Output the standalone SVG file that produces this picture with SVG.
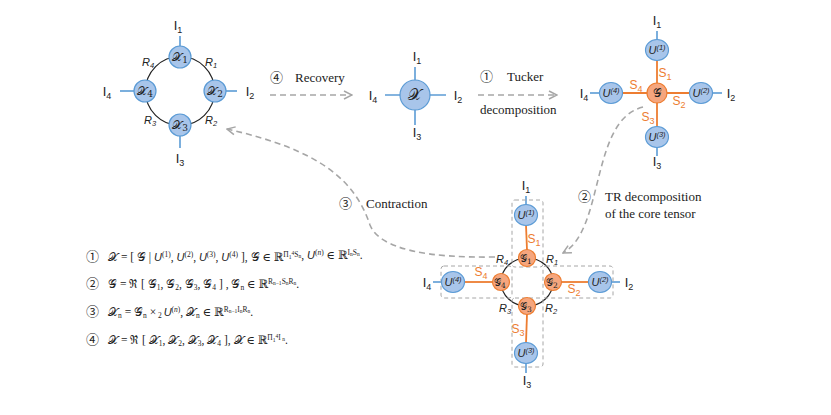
<svg xmlns="http://www.w3.org/2000/svg" width="831" height="415" viewBox="0 0 831 415">
<style>
.blue{fill:#a8c5ea;stroke:#5b9bd5;stroke-width:1.2}
.orng{fill:#f5a67e;stroke:#ed7d31;stroke-width:1.2}
.leg{stroke:#5b9bd5;stroke-width:1.6;fill:none}
.oline{stroke:#ed7d31;stroke-width:1.8;fill:none}
.ring{fill:none;stroke:#222;stroke-width:1.2}
.dash{fill:none;stroke:#a6a6a6;stroke-width:1.6;stroke-dasharray:6 4}
.box{fill:none;stroke:#a6a6a6;stroke-width:1;stroke-dasharray:4 3}
.lbl{font-family:"Liberation Sans",Arial,sans-serif;font-size:13px;fill:#222}
.sub{font-size:9px}
.R{font-family:"Liberation Sans",Arial,sans-serif;font-style:italic;font-size:11px;fill:#222}
.S{font-family:"Liberation Sans",Arial,sans-serif;font-size:12px;fill:#ed7d31}
.ser{font-family:"Liberation Serif","Times New Roman",serif;font-size:13px;fill:#222}
.cn{font-family:"Noto Sans CJK SC","DejaVu Sans",sans-serif;font-size:13px;fill:#222}
.scr{font-family:"DejaVu Serif","Noto Sans CJK SC",serif;font-size:12px;fill:#222}
.U{font-family:"Liberation Sans",Arial,sans-serif;font-style:italic;font-size:11px;fill:#222}
.eq{font-family:"Liberation Serif","DejaVu Serif","Noto Sans CJK SC",serif;font-size:11.5px;fill:#222}
.sm{font-size:7.5px}
.xs{font-size:5.5px}
</style>
<defs>
<marker id="ah" viewBox="0 0 10 10" refX="9" refY="5" markerWidth="10" markerHeight="10" markerUnits="userSpaceOnUse" orient="auto">
<path d="M1,1 L9,5 L1,9" fill="none" stroke="#a6a6a6" stroke-width="1.5"/>
</marker>
</defs>

<g id="connectors">
<circle class="ring" cx="180" cy="91" r="34.5"/>
<line class="leg" x1="180" y1="36" x2="180" y2="46"/>
<line class="leg" x1="226" y1="91" x2="237" y2="91"/>
<line class="leg" x1="180" y1="136" x2="180" y2="148"/>
<line class="leg" x1="120" y1="91" x2="134" y2="91"/>
<line class="leg" x1="415" y1="67" x2="415" y2="125"/>
<line class="leg" x1="385" y1="95" x2="446" y2="95"/>
<line class="leg" x1="657" y1="31" x2="657" y2="40"/>
<line class="leg" x1="712" y1="93" x2="722" y2="93"/>
<line class="leg" x1="657" y1="147" x2="657" y2="156"/>
<line class="leg" x1="590" y1="93" x2="600" y2="93"/>
<line class="oline" x1="657" y1="60" x2="657" y2="127"/>
<line class="oline" x1="622" y1="93" x2="690" y2="93"/>
<ellipse class="ring" cx="527" cy="282" rx="26" ry="24"/>
<line class="leg" x1="526" y1="196" x2="526" y2="205"/>
<line class="leg" x1="611" y1="282" x2="620" y2="282"/>
<line class="leg" x1="526" y1="363" x2="526" y2="373"/>
<line class="leg" x1="433" y1="282" x2="442" y2="282"/>
<line class="oline" x1="526" y1="225" x2="527" y2="250"/>
<line class="oline" x1="561" y1="282" x2="589" y2="282"/>
<line class="oline" x1="527" y1="314" x2="526" y2="343"/>
<line class="oline" x1="464" y1="282" x2="493" y2="282"/>
<rect class="box" x="512" y="200" width="31" height="67" rx="3"/>
<rect class="box" x="543" y="266" width="70" height="32" rx="3"/>
<rect class="box" x="441" y="266" width="71" height="32" rx="3"/>
<rect class="box" x="512" y="298" width="31" height="69" rx="3"/>
<line class="dash" x1="270" y1="95" x2="352" y2="95" marker-end="url(#ah)"/>
<line class="dash" x1="478" y1="95" x2="557" y2="95" marker-end="url(#ah)"/>
<path class="dash" d="M643,107 C590,120 605,230 563,253" marker-end="url(#ah)"/>
<path class="dash" d="M495,257 C430,258 380,250 370,225 C355,180 320,150 227,129" marker-end="url(#ah)"/>
</g>

<g id="ring-nodes">
<g id="X1"><circle class="blue" cx="180" cy="57" r="11"/><text class="scr" x="180" y="61" text-anchor="middle">𝒳<tspan class="sub" dy="2">1</tspan></text></g>
<g id="X2"><circle class="blue" cx="215" cy="91" r="11"/><text class="scr" x="215" y="95" text-anchor="middle">𝒳<tspan class="sub" dy="2">2</tspan></text></g>
<g id="X3"><circle class="blue" cx="180" cy="125" r="11"/><text class="scr" x="180" y="129" text-anchor="middle">𝒳<tspan class="sub" dy="2">3</tspan></text></g>
<g id="X4"><circle class="blue" cx="145" cy="91" r="11"/><text class="scr" x="145" y="95" text-anchor="middle">𝒳<tspan class="sub" dy="2">4</tspan></text></g>
<text class="lbl" x="178" y="30" text-anchor="middle">I<tspan class="sub" dy="3">1</tspan></text>
<text class="lbl" x="250" y="96" text-anchor="middle">I<tspan class="sub" dy="3">2</tspan></text>
<text class="lbl" x="180" y="163" text-anchor="middle">I<tspan class="sub" dy="3">3</tspan></text>
<text class="lbl" x="107" y="96" text-anchor="middle">I<tspan class="sub" dy="3">4</tspan></text>
<text class="R" x="148" y="66" text-anchor="middle">R<tspan class="sm" dy="2">4</tspan></text>
<text class="R" x="211" y="66" text-anchor="middle">R<tspan class="sm" dy="2">1</tspan></text>
<text class="R" x="150" y="124" text-anchor="middle">R<tspan class="sm" dy="2">3</tspan></text>
<text class="R" x="211" y="124" text-anchor="middle">R<tspan class="sm" dy="2">2</tspan></text>
</g>

<g id="X">
<circle class="blue" cx="415" cy="95" r="15"/>
<text class="scr" x="415" y="100" text-anchor="middle" style="font-size:16px">𝒳</text>
<text class="lbl" x="417" y="61" text-anchor="middle">I<tspan class="sub" dy="3">1</tspan></text>
<text class="lbl" x="458" y="100" text-anchor="middle">I<tspan class="sub" dy="3">2</tspan></text>
<text class="lbl" x="417" y="137" text-anchor="middle">I<tspan class="sub" dy="3">3</tspan></text>
<text class="lbl" x="373" y="100" text-anchor="middle">I<tspan class="sub" dy="3">4</tspan></text>
</g>

<g id="labels">
<text class="cn" x="270" y="82">④</text>
<text class="ser" x="295" y="82">Recovery</text>
<text class="cn" x="480" y="81">①</text>
<text class="ser" x="507" y="81">Tucker</text>
<text class="ser" x="480" y="114">decomposition</text>
<text class="cn" x="339" y="208">③</text>
<text class="ser" x="366" y="208">Contraction</text>
<text class="cn" x="578" y="201">②</text>
<text class="ser" x="605" y="201">TR decomposition</text>
<text class="ser" x="605" y="218">of the core tensor</text>
</g>

<g id="tucker">
<g id="G"><circle class="orng" cx="657" cy="93" r="10"/><text class="scr" x="657" y="97" text-anchor="middle">𝒢</text></g>
<g id="U1"><ellipse class="blue" cx="657" cy="50" rx="11.5" ry="10.5"/><text class="U" x="657" y="54" text-anchor="middle">U<tspan class="sm" dy="-4">(1)</tspan></text></g>
<g id="U2"><ellipse class="blue" cx="701" cy="93" rx="11.5" ry="10.5"/><text class="U" x="701" y="97" text-anchor="middle">U<tspan class="sm" dy="-4">(2)</tspan></text></g>
<g id="U3"><ellipse class="blue" cx="657" cy="137" rx="11.5" ry="10.5"/><text class="U" x="657" y="141" text-anchor="middle">U<tspan class="sm" dy="-4">(3)</tspan></text></g>
<g id="U4"><ellipse class="blue" cx="611" cy="93" rx="11.5" ry="10.5"/><text class="U" x="611" y="97" text-anchor="middle">U<tspan class="sm" dy="-4">(4)</tspan></text></g>
<text class="lbl" x="657" y="25" text-anchor="middle">I<tspan class="sub" dy="3">1</tspan></text>
<text class="lbl" x="731" y="98" text-anchor="middle">I<tspan class="sub" dy="3">2</tspan></text>
<text class="lbl" x="657" y="166" text-anchor="middle">I<tspan class="sub" dy="3">3</tspan></text>
<text class="lbl" x="584" y="98" text-anchor="middle">I<tspan class="sub" dy="3">4</tspan></text>
<text class="S" x="665" y="77" text-anchor="middle">S<tspan class="sub" dy="3">1</tspan></text>
<text class="S" x="679" y="105" text-anchor="middle">S<tspan class="sub" dy="3">2</tspan></text>
<text class="S" x="648" y="121" text-anchor="middle">S<tspan class="sub" dy="3">3</tspan></text>
<text class="S" x="636" y="89" text-anchor="middle">S<tspan class="sub" dy="3">4</tspan></text>
</g>

<g id="tr">
<g id="G1"><circle class="orng" cx="527" cy="258" r="8.5"/><text class="scr" x="526" y="262" text-anchor="middle" style="font-size:10px">𝒢<tspan class="sm" dy="2">1</tspan></text></g>
<g id="G2"><circle class="orng" cx="553" cy="282" r="8.5"/><text class="scr" x="552" y="286" text-anchor="middle" style="font-size:10px">𝒢<tspan class="sm" dy="2">2</tspan></text></g>
<g id="G3"><circle class="orng" cx="527" cy="306" r="8.5"/><text class="scr" x="526" y="310" text-anchor="middle" style="font-size:10px">𝒢<tspan class="sm" dy="2">3</tspan></text></g>
<g id="G4"><circle class="orng" cx="501" cy="282" r="8.5"/><text class="scr" x="500" y="286" text-anchor="middle" style="font-size:10px">𝒢<tspan class="sm" dy="2">4</tspan></text></g>
<g id="TU1"><ellipse class="blue" cx="526" cy="215" rx="11.5" ry="10.5"/><text class="U" x="526" y="219" text-anchor="middle">U<tspan class="sm" dy="-4">(1)</tspan></text></g>
<g id="TU2"><ellipse class="blue" cx="600" cy="282" rx="11.5" ry="10.5"/><text class="U" x="600" y="286" text-anchor="middle">U<tspan class="sm" dy="-4">(2)</tspan></text></g>
<g id="TU3"><ellipse class="blue" cx="526" cy="353" rx="11.5" ry="10.5"/><text class="U" x="526" y="357" text-anchor="middle">U<tspan class="sm" dy="-4">(3)</tspan></text></g>
<g id="TU4"><ellipse class="blue" cx="453" cy="282" rx="11.5" ry="10.5"/><text class="U" x="453" y="286" text-anchor="middle">U<tspan class="sm" dy="-4">(4)</tspan></text></g>
<text class="lbl" x="526" y="190" text-anchor="middle">I<tspan class="sub" dy="3">1</tspan></text>
<text class="lbl" x="629" y="287" text-anchor="middle">I<tspan class="sub" dy="3">2</tspan></text>
<text class="lbl" x="527" y="385" text-anchor="middle">I<tspan class="sub" dy="3">3</tspan></text>
<text class="lbl" x="427" y="287" text-anchor="middle">I<tspan class="sub" dy="3">4</tspan></text>
<text class="S" x="534" y="243" text-anchor="middle">S<tspan class="sub" dy="3">1</tspan></text>
<text class="S" x="574" y="293" text-anchor="middle">S<tspan class="sub" dy="3">2</tspan></text>
<text class="S" x="518" y="333" text-anchor="middle">S<tspan class="sub" dy="3">3</tspan></text>
<text class="S" x="481" y="276" text-anchor="middle">S<tspan class="sub" dy="3">4</tspan></text>
<text class="R" x="502" y="263" text-anchor="middle">R<tspan class="sm" dy="2">4</tspan></text>
<text class="R" x="552" y="263" text-anchor="middle">R<tspan class="sm" dy="2">1</tspan></text>
<text class="R" x="505" y="312" text-anchor="middle">R<tspan class="sm" dy="2">3</tspan></text>
<text class="R" x="551" y="312" text-anchor="middle">R<tspan class="sm" dy="2">2</tspan></text>
</g>

<g id="equations">
<text class="cn" x="86" y="261">①</text>
<text class="eq" x="108" y="261">𝒳 = [ 𝒢 | <tspan class="U">U</tspan><tspan class="sm" dy="-4">(1)</tspan><tspan dy="4">, </tspan><tspan class="U">U</tspan><tspan class="sm" dy="-4">(2)</tspan><tspan dy="4">, </tspan><tspan class="U">U</tspan><tspan class="sm" dy="-4">(3)</tspan><tspan dy="4">, </tspan><tspan class="U">U</tspan><tspan class="sm" dy="-4">(4)</tspan><tspan dy="4"> ], 𝒢 ∈ ℝ</tspan><tspan class="sm" dy="-4">Π</tspan><tspan class="xs" dy="2">1</tspan><tspan class="xs" dy="-4">4</tspan><tspan class="sm" dy="2">S</tspan><tspan class="xs" dy="1">n</tspan><tspan dy="1">, </tspan><tspan class="U">U</tspan><tspan class="sm" dy="-4">(<tspan font-style="italic">n</tspan>)</tspan><tspan dy="4"> ∈ ℝ</tspan><tspan class="sm" dy="-4">I</tspan><tspan class="xs" dy="1">n</tspan><tspan class="sm" dy="-1">S</tspan><tspan class="xs" dy="1">n</tspan><tspan dy="3">.</tspan></text>
<text class="cn" x="86" y="288">②</text>
<text class="eq" x="108" y="288">𝒢 = ℜ [ 𝒢<tspan class="sm" dy="2">1</tspan><tspan dy="-2">,  𝒢</tspan><tspan class="sm" dy="2">2</tspan><tspan dy="-2">,  𝒢</tspan><tspan class="sm" dy="2">3</tspan><tspan dy="-2">,  𝒢</tspan><tspan class="sm" dy="2">4</tspan><tspan dy="-2"> ] , 𝒢</tspan><tspan class="sm" dy="2">n</tspan><tspan dy="-2"> ∈ ℝ</tspan><tspan class="sm" dy="-4">R</tspan><tspan class="xs" dy="1">n−1</tspan><tspan class="sm" dy="-1">S</tspan><tspan class="xs" dy="1">n</tspan><tspan class="sm" dy="-1">R</tspan><tspan class="xs" dy="1">n</tspan><tspan dy="3">.</tspan></text>
<text class="cn" x="86" y="316">③</text>
<text class="eq" x="108" y="316">𝒳<tspan class="sm" dy="2">n</tspan><tspan dy="-2"> = 𝒢</tspan><tspan class="sm" dy="2">n</tspan><tspan dy="-2"> ×</tspan><tspan class="sm" dy="2"> 2 </tspan><tspan class="U" dy="-2">U</tspan><tspan class="sm" dy="-4">(<tspan font-style="italic">n</tspan>)</tspan><tspan dy="4">,  𝒳</tspan><tspan class="sm" dy="2">n</tspan><tspan dy="-2"> ∈ ℝ</tspan><tspan class="sm" dy="-4">R</tspan><tspan class="xs" dy="1">n−1</tspan><tspan class="sm" dy="-1">I</tspan><tspan class="xs" dy="1">n</tspan><tspan class="sm" dy="-1">R</tspan><tspan class="xs" dy="1">n</tspan><tspan dy="3">.</tspan></text>
<text class="cn" x="86" y="344">④</text>
<text class="eq" x="108" y="344">𝒳 = ℜ [ 𝒳<tspan class="sm" dy="2">1</tspan><tspan dy="-2">,  𝒳</tspan><tspan class="sm" dy="2">2</tspan><tspan dy="-2">,  𝒳</tspan><tspan class="sm" dy="2">3</tspan><tspan dy="-2">,  𝒳</tspan><tspan class="sm" dy="2">4</tspan><tspan dy="-2"> ], 𝒳 ∈ ℝ</tspan><tspan class="sm" dy="-4">Π</tspan><tspan class="xs" dy="2">1</tspan><tspan class="xs" dy="-4">4</tspan><tspan class="sm" dy="2">I</tspan><tspan class="xs" dy="1"> n</tspan><tspan dy="3">.</tspan></text>
</g>
</svg>
